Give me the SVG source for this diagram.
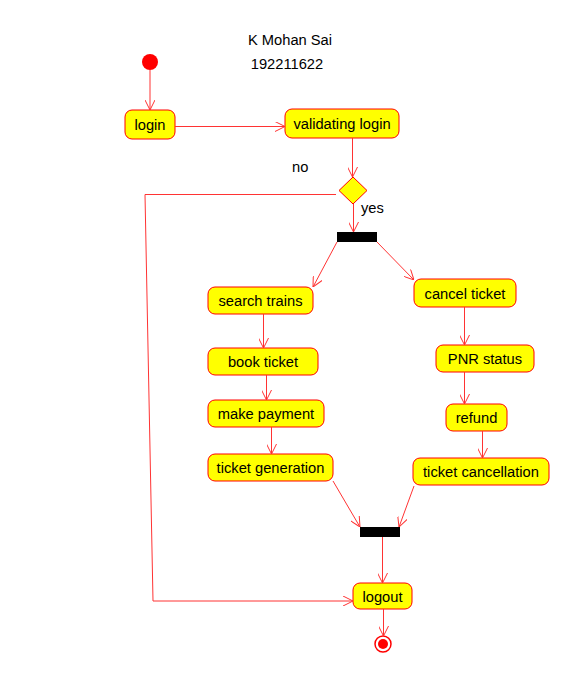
<svg xmlns="http://www.w3.org/2000/svg" width="588" height="686" viewBox="0 0 588 686">
  <style>
    .node rect { fill: #ffff00; stroke: #ff0000; stroke-width: 1; }
    .node text, .label { font-family: "Liberation Sans", Arial, sans-serif; font-size: 14.7px; fill: #000; }
    .node text { text-anchor: middle; }
    .bar { fill: #000; }
    #connectors path, #connectors line, #connectors polyline { fill: none; stroke: #ff3333; stroke-width: 1; marker-end: url(#open); }
  </style>
  <defs>
    <marker id="open" viewBox="0 0 10 10" refX="10" refY="5" markerWidth="10" markerHeight="10" markerUnits="userSpaceOnUse" orient="auto">
      <path d="M0,0 L10,5 L0,10" fill="none" stroke="#ff3333" stroke-width="1"/>
    </marker>
  </defs>
  <rect width="588" height="686" fill="#fff"/>

  <text class="label" x="290" y="45" text-anchor="middle">K Mohan Sai</text>
  <text class="label" x="287" y="69" text-anchor="middle">192211622</text>
  <text class="label" x="292" y="172">no</text>
  <text class="label" x="361" y="213">yes</text>

  <g id="start"><circle cx="150" cy="62" r="8" fill="#ff0000"/></g>

  <g id="login" class="node"><rect x="125" y="110" width="50" height="29" rx="7"/><text x="150" y="130">login</text></g>
  <g id="validating" class="node"><rect x="285" y="109" width="114" height="29" rx="7"/><text x="342" y="129">validating login</text></g>

  <g id="decision"><polygon points="353,177 367,190.5 353,204 339,190.5" fill="#ffff00" stroke="#ff0000"/></g>
  <g id="fork"><rect class="bar" x="337" y="232" width="40" height="10"/></g>

  <g id="search" class="node"><rect x="208" y="287" width="105" height="27" rx="7"/><text x="260.5" y="306">search trains</text></g>
  <g id="book" class="node"><rect x="208" y="348" width="110" height="27" rx="7"/><text x="263" y="367">book ticket</text></g>
  <g id="payment" class="node"><rect x="208" y="400" width="116" height="27" rx="7"/><text x="266" y="419">make payment</text></g>
  <g id="generation" class="node"><rect x="208" y="454" width="125" height="27" rx="7"/><text x="270.5" y="473">ticket generation</text></g>

  <g id="cancel" class="node"><rect x="414" y="279" width="102" height="28" rx="7"/><text x="465" y="299">cancel ticket</text></g>
  <g id="pnr" class="node"><rect x="436" y="345" width="98" height="27" rx="7"/><text x="485" y="364">PNR status</text></g>
  <g id="refund" class="node"><rect x="446" y="404" width="61" height="27" rx="7"/><text x="476.5" y="423">refund</text></g>
  <g id="cancellation" class="node"><rect x="413" y="458" width="136" height="27" rx="7"/><text x="481" y="477">ticket cancellation</text></g>

  <g id="join"><rect class="bar" x="360" y="527" width="40" height="10"/></g>
  <g id="logout" class="node"><rect x="353" y="583" width="59" height="26" rx="7"/><text x="382.5" y="602">logout</text></g>

  <g id="end">
    <circle cx="383" cy="644" r="8" fill="#fff" stroke="#ff0000" stroke-width="1.5"/>
    <circle cx="383" cy="644" r="5" fill="#ff0000"/>
  </g>

  <g id="connectors">
    <line x1="150" y1="70" x2="150" y2="110"/>
    <line x1="175" y1="126.5" x2="285" y2="126.5"/>
    <line x1="352.5" y1="138" x2="352.5" y2="177"/>
    <polyline points="336,194.5 145,194.5 153,601 353,601"/>
    <line x1="353.5" y1="204" x2="353.5" y2="232"/>
    <line x1="337" y1="242" x2="313" y2="287"/>
    <line x1="377" y1="242" x2="414" y2="280"/>
    <line x1="263.5" y1="314" x2="263.5" y2="348"/>
    <line x1="266.5" y1="375" x2="266.5" y2="400"/>
    <line x1="271.5" y1="427" x2="271.5" y2="454"/>
    <line x1="464.5" y1="307" x2="464.5" y2="345"/>
    <line x1="464.5" y1="372" x2="464.5" y2="404"/>
    <line x1="482.5" y1="431" x2="482.5" y2="458"/>
    <line x1="333" y1="481" x2="360" y2="527"/>
    <line x1="414" y1="486" x2="399" y2="527"/>
    <line x1="382.5" y1="537" x2="382.5" y2="583"/>
    <line x1="383.5" y1="609" x2="383.5" y2="636"/>
  </g>
</svg>
